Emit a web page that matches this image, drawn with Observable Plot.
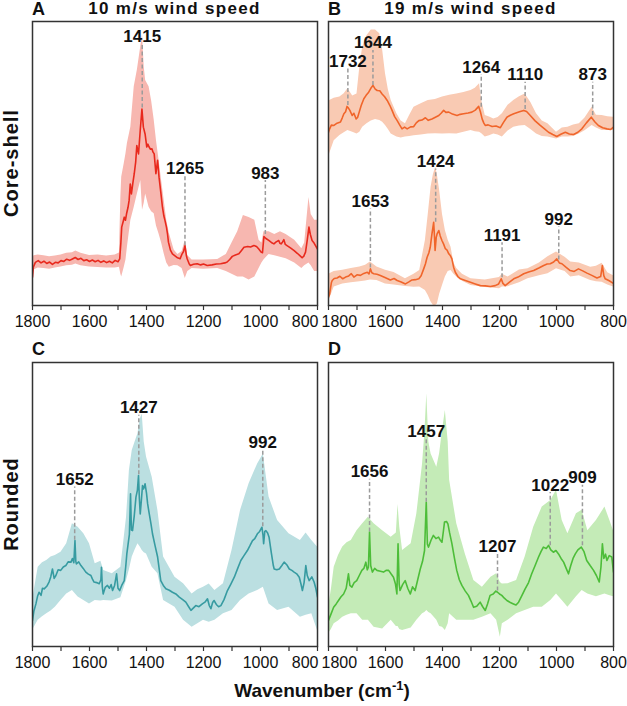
<!DOCTYPE html>
<html><head><meta charset="utf-8">
<script src="https://cdn.jsdelivr.net/npm/d3@7"></script>
<script src="https://cdn.jsdelivr.net/npm/@observablehq/plot@0.6"></script>
<style>
body{margin:0;background:#fff;}
#fig{position:relative;width:627px;height:706px;font-family:"Liberation Sans",Arial,sans-serif;color:#111;overflow:hidden;}
.abs{position:absolute;white-space:nowrap;}
.plot{position:absolute;}
.ttl{font-weight:bold;font-size:17px;line-height:17px;letter-spacing:1.3px;text-align:center;}
.let{font-weight:bold;font-size:18px;line-height:18px;}
.ylab{font-weight:bold;font-size:20px;letter-spacing:1px;transform:translate(-50%,-50%) rotate(-90deg);}
.xlab{font-weight:bold;font-size:19px;transform:translateX(-50%);}
.xlab sup{font-size:13px;}
</style></head><body><div id="fig"></div>
<script>
// ---------- data (intensity in arbitrary units, 0 = bottom of frame, 100 = top) ----------
const xLabelTicks = [1800, 1600, 1400, 1200, 1000, 800];
const xMinorTicks = [1800, 1700, 1600, 1500, 1400, 1300, 1200, 1100, 1000, 900, 800];
const panelTitles = ["10 m/s wind speed", "19 m/s wind speed"];
const panelLetters = ["A", "B", "C", "D"];
const rowLabels = ["Core-shell", "Rounded"];
const xTitle = "Wavenumber (cm";

// Panel A: core-shell, 10 m/s  [wavenumber, mean]
const meanA = [[1800,10],[1797,13.5],[1790,15.2],[1780,15.8],[1770,15.0],[1760,15.6],[1750,14.8],[1740,15.3],[1730,14.5],[1720,15.2],[1710,15.0],[1700,15.8],[1690,15.5],[1680,16.3],[1670,15.9],[1660,16.4],[1650,16.9],[1640,16.2],[1630,16.6],[1620,15.8],[1610,16.1],[1600,15.5],[1590,16.0],[1580,15.4],[1570,15.9],[1560,15.2],[1550,15.7],[1540,15.1],[1530,15.6],[1520,15.0],[1510,15.9],[1500,15.4],[1494,16.4],[1490,22.0],[1487,27.6],[1482,29.5],[1478,31.1],[1474,30.0],[1470,32.3],[1465,34.5],[1461,37.0],[1457,42.8],[1453,39.3],[1448,43.0],[1443,46.4],[1438,50.5],[1434,56.3],[1428,53.4],[1422,61.6],[1416,69.2],[1411,62.8],[1405,60.4],[1399,55.8],[1395,56.8],[1391,55.8],[1386,55.0],[1381,55.2],[1377,54.0],[1373,53.4],[1367,46.4],[1361,51.1],[1356,45.2],[1350,40.0],[1344,34.6],[1339,31.5],[1335,29.9],[1330,27.6],[1326,25.0],[1323,22.3],[1316,19.5],[1309,18.2],[1300,17.5],[1291,16.8],[1282,16.5],[1275,18.2],[1270,19.0],[1265,21.1],[1260,17.5],[1257,16.4],[1250,14.6],[1246,14.1],[1235,14.5],[1222,14.7],[1210,14.3],[1200,14.6],[1187,14.1],[1170,14.3],[1155,14.6],[1140,14.7],[1125,15.0],[1117,15.3],[1108,16.2],[1099,17.3],[1088,17.8],[1076,18.2],[1068,19.2],[1058,20.5],[1045,20.8],[1035,20.6],[1023,21.1],[1014,20.8],[1006,19.9],[998,18.8],[993,18.6],[988,24.3],[981,23.6],[971,22.9],[962,22.2],[953,21.7],[945,22.4],[936,22.9],[932,21.9],[928,21.7],[923,22.3],[918,23.2],[913,21.5],[907,21.1],[895,20.3],[883,19.4],[870,18.3],[860,17.4],[854,16.8],[848,17.4],[842,18.8],[836,23],[830,27.6],[825,25],[819,22.9],[812,22],[807,21.1],[800,19.9]];
// [wavenumber, lower, upper]
const bandA = [[1800,6,16],[1795,12.5,17.5],[1780,13.2,17.8],[1760,13.0,17.5],[1740,12.8,17.2],[1720,13.2,17.4],[1700,13.6,17.8],[1680,14.0,18.4],[1660,14.2,18.6],[1648,14.6,19.2],[1630,14.0,18.4],[1600,13.6,17.6],[1570,13.4,17.8],[1540,13.2,17.4],[1510,13.2,17.8],[1495,13.5,18.5],[1490,11,38],[1487,10.0,45.2],[1478,13.5,50],[1472,16,53.4],[1467,20.5,57],[1455,29.9,62.8],[1443,34.6,77.0],[1432,39.3,82.9],[1420,44.0,91.2],[1414,33.5,95.3],[1408,36,84],[1403,39.3,79.2],[1391,34.6,77.0],[1382,33,72],[1373,32.3,65.3],[1365,28,58],[1356,25.2,51.2],[1347,22,44],[1338,18.2,37.1],[1329,15,30],[1320,13.5,25.4],[1303,14.1,19.5],[1290,14,18],[1275,13,19],[1264,9.5,22.9],[1255,12,17.5],[1240,13,16],[1200,12.8,16],[1150,13,16.2],[1120,12,18],[1100,11,22],[1080,10,26],[1060,10,31.7],[1040,9,31],[1020,10,30],[1005,13,23],[995,15,22],[988,16,26],[970,18,26],[950,17.5,25],[930,17,26],[910,16.5,25],[880,15,23],[855,13,20],[845,14,22],[830,15,38],[822,14,32],[810,12,30],[800,12,30]];
const peaksA = [[1415,92,69.5],[1265,45.5,21],[983,44,25]]; // [wavenumber, dashed-line top, peak]

// Panel B: core-shell, 19 m/s (two spectra)
const meanB1 = [[1800,61],[1796,62.2],[1790,63.5],[1781,63.4],[1770,64.2],[1758,64.6],[1752,66],[1746,67.5],[1740,68.2],[1735,70.1],[1730,69.5],[1725,68.7],[1717,66.9],[1711,67.7],[1703,65.7],[1698,66.2],[1694,67.5],[1685,70.5],[1676,72.8],[1668,74],[1659,75.1],[1652,76.4],[1644,77.5],[1636,76.2],[1629,75.7],[1620,75.6],[1612,74.5],[1603,73.5],[1594,72.2],[1585,70.5],[1577,68.7],[1568,66.5],[1559,65.1],[1550,63.5],[1542,62.2],[1533,62.8],[1524,62.2],[1512,62.9],[1501,63.0],[1492,64.3],[1483,65.1],[1472,65.3],[1460,66.1],[1450,65.2],[1437,65.7],[1425,66.3],[1413,66.9],[1405,67.7],[1396,68.7],[1388,68.0],[1378,68.1],[1365,67.4],[1349,66.9],[1338,67.3],[1326,67.5],[1310,67.8],[1297,68.1],[1285,68.8],[1273,70.1],[1267,68.2],[1261,65.7],[1255,64.2],[1250,63.4],[1240,63.6],[1226,63.0],[1212,63.2],[1197,62.6],[1186,64.5],[1174,66.3],[1162,67.0],[1150,67.5],[1130,68.2],[1115,68.7],[1105,68.3],[1092,66.9],[1075,65.0],[1057,63.4],[1042,62.2],[1028,61.0],[1013,60.2],[999,59.5],[985,60.3],[969,61.0],[955,60.4],[940,60.2],[925,61.0],[911,62.2],[895,64.3],[878,66.3],[865,64.6],[853,63.4],[838,62.6],[823,62.2],[810,62.0],[800,62.8]];
const bandB1 = [[1800,50,70],[1796,53.4,72.2],[1780,58,73],[1760,59.9,73.4],[1745,60.8,74.6],[1732,61.6,76.3],[1715,61,73.8],[1700,60.4,74.5],[1690,61,84],[1680,62.8,91.0],[1665,64,95],[1650,65,97],[1635,65.5,97],[1620,65.1,95.7],[1610,64.5,90],[1600,63.4,81.6],[1590,62,76],[1580,60.4,72.2],[1560,59.3,67.5],[1545,59,65],[1530,59.3,64.0],[1515,59.5,67],[1500,59.8,69.8],[1475,60,71],[1450,60.4,72.2],[1425,60.5,72.5],[1400,60.4,73.4],[1375,60.5,74],[1350,60.4,74.5],[1325,61,75],[1300,61.6,75.7],[1285,61.2,76.5],[1270,61,78.1],[1262,60.5,72],[1250,59.3,66.9],[1235,59.8,66.4],[1220,60.4,65.7],[1205,60,66.2],[1190,59.3,67.5],[1170,61.4,70.5],[1150,62.8,72.2],[1130,63.2,73.5],[1110,63.4,74.5],[1090,62,71.5],[1070,60.4,67.5],[1050,59.5,65],[1030,59.3,64.0],[1015,59.0,62.5],[1000,58.6,61.0],[980,59.3,62.5],[960,59.3,62.8],[940,59.5,63.6],[920,60.4,64.0],[900,61.5,66],[875,63.4,69.8],[860,62.5,67],[840,61.6,66.9],[820,61.6,66.5],[800,61.6,66.3]];
const meanB2 = [[1800,3],[1796,4.1],[1790,8],[1787,8.8],[1780,9.5],[1770,9.7],[1760,10.3],[1750,9.4],[1740,10.0],[1729,10.4],[1720,11.2],[1711,10.0],[1700,10.8],[1688,10.6],[1676,11.3],[1664,11.7],[1658,11.1],[1653,12.9],[1648,11.5],[1641,11.2],[1630,11.0],[1618,10.6],[1600,9.8],[1583,9.0],[1570,9.5],[1559,8.8],[1545,8.3],[1530,7.6],[1518,8.3],[1507,9.0],[1495,9.1],[1483,9.4],[1475,10.5],[1466,12.9],[1460,14.6],[1454,17.0],[1448,18.5],[1443,20.5],[1437,25.2],[1431,29.3],[1428,24],[1426,19.4],[1422,24],[1419,25.2],[1413,26.4],[1408,24.5],[1402,22.9],[1396,21.6],[1390,20.0],[1384,19.5],[1378,18.2],[1372,17.5],[1367,16.4],[1361,13.5],[1355,11.7],[1346,10.2],[1337,9.4],[1320,8.8],[1302,8.2],[1285,7.6],[1267,7.0],[1250,6.9],[1232,6.7],[1215,7.0],[1203,7.6],[1194,9.4],[1188,7.8],[1180,7.0],[1165,8.2],[1150,9.4],[1135,10.0],[1115,11.2],[1098,11.8],[1080,12.3],[1062,13.2],[1045,14.1],[1033,14.6],[1022,14.7],[1010,15.3],[999,16.4],[990,15.0],[981,14.7],[967,13.5],[952,12.3],[938,12.0],[923,12.9],[908,12.2],[893,11.4],[876,10.6],[858,9.7],[845,10.2],[839,14.1],[834,10.5],[829,9.4],[815,8.7],[802,7.9],[800,7.8]];
const bandB2 = [[1800,1,9],[1796,2.3,11.2],[1780,6.5,12],[1750,7.6,12.4],[1720,8,13],[1690,8.4,13.6],[1670,8.6,14.2],[1653,9,15.3],[1630,8.8,13.6],[1600,7.6,12.4],[1570,7.2,11.6],[1530,6.7,9.4],[1500,6.4,11],[1480,6.5,12.3],[1460,5.3,22.9],[1450,3.5,32],[1440,1.2,41.7],[1432,0,46],[1424,0,48.7],[1418,0.5,46],[1410,4,40.5],[1400,7,32],[1390,10,26.4],[1380,12,23],[1370,12.3,20.5],[1360,11,15],[1350,10,13],[1330,8.5,11],[1300,7.0,9.4],[1250,6.3,9],[1200,5.9,9.9],[1190,6.5,11],[1170,6.6,10],[1130,8.0,12.5],[1100,9.4,12.9],[1060,10.5,15],[1030,11.2,17.2],[1000,12.9,18.8],[970,12,17],[950,10.0,15.3],[920,10.5,15],[880,8.8,13.5],[860,8.4,13.8],[840,8.2,14.9],[820,7.2,11.5],[800,6.5,10.5]];
const peaksB = [[1732,83.3,70.4],[1644,89.8,77.5],[1264,81.3,69.8],[1110,78.6,69],[873,78.6,66.9],[1424,48.1,29.3],[1653,34,13.2],[1191,22.1,9.8],[992,27.6,16]];

// Panel C: rounded, 10 m/s
const meanC = [[1800,9.2],[1795,12.5],[1788,15.0],[1782,17.8],[1777,19.1],[1770,18.0],[1765,20.5],[1759,20.3],[1750,21.2],[1742,22.7],[1736,24.5],[1730,27.3],[1724,24.0],[1718,25.0],[1710,27.0],[1701,26.8],[1692,28.0],[1683,28.5],[1675,29.8],[1665,29.7],[1660,31.0],[1655,29.5],[1651,37.3],[1648,30.0],[1646,29.1],[1638,29.8],[1630,28.5],[1622,27.5],[1613,26.2],[1604,25.5],[1595,25.0],[1590,23.8],[1584,22.7],[1575,22.5],[1566,22.1],[1560,23.5],[1558,27.9],[1555,21.0],[1552,18.5],[1545,20.8],[1537,21.5],[1530,20.5],[1524,21.8],[1519,19.7],[1512,21.5],[1505,25.6],[1500,20.5],[1494,19.7],[1487,21.5],[1478,23.2],[1473,28.0],[1469,32.6],[1464,36.5],[1460,39.5],[1456,53.8],[1453,41.0],[1449,40.8],[1443,46.0],[1437,52.6],[1432,55.0],[1428,60.2],[1425,52],[1422,46.7],[1418,51.5],[1414,56.7],[1410,55.5],[1405,57.3],[1400,54.0],[1396,50.2],[1390,46.5],[1384,43.0],[1379,39.7],[1370,35.5],[1361,31.5],[1355,27.0],[1350,23.2],[1341,21.5],[1332,20.3],[1320,19.8],[1309,19.1],[1297,18.5],[1285,17.4],[1273,16.5],[1262,15.6],[1252,14.0],[1244,12.7],[1236,13.5],[1227,14.4],[1216,14.0],[1204,15.0],[1195,15.6],[1186,16.8],[1180,14.5],[1174,13.3],[1168,15.5],[1163,16.2],[1155,14.8],[1147,14.0],[1139,14.4],[1128,16.5],[1116,19.7],[1104,22.0],[1092,24.4],[1080,27.5],[1069,30.3],[1058,32.0],[1046,33.8],[1037,35.5],[1028,37.3],[1020,38.0],[1011,39.7],[1003,40.5],[995,42.0],[991,39.0],[989,36.2],[985,40.5],[981,40.8],[975,40.0],[970,38.5],[962,33.0],[955,28.5],[952,27.3],[943,27.0],[934,27.3],[925,28.5],[917,29.7],[908,28.8],[899,27.3],[890,26.8],[882,26.2],[873,25.6],[864,24.4],[858,22.0],[853,19.7],[847,22.5],[841,28.5],[836,25.0],[829,23.2],[820,24.5],[812,22.7],[806,20.5],[800,17.4]];
const bandC = [[1800,5.6,16.2],[1790,7.5,22],[1780,9.2,27.9],[1765,10.5,29.5],[1750,11.5,30.3],[1735,12.5,31.5],[1720,13.8,32.0],[1700,16.2,33.2],[1680,18.5,36.2],[1660,19.7,43.2],[1640,17.4,42.0],[1620,16.2,39.7],[1600,15.0,36.2],[1580,16.2,29.1],[1560,16.0,30],[1550,16.2,26.8],[1520,16.0,25.6],[1490,17.2,27.9],[1470,23.2,45.5],[1460,27,62],[1450,31.5,69.0],[1440,34,72],[1430,36.2,74.9],[1422,35,80],[1415,33.8,81.9],[1408,33,72],[1400,32.6,66.7],[1380,27.9,59.6],[1360,25.6,47.9],[1340,16.2,31.5],[1300,13.8,24.4],[1270,9.2,22.1],[1240,6.8,18.5],[1220,8,20],[1200,9.2,20.9],[1180,8.5,22],[1160,9.2,19.7],[1130,11.5,22.1],[1100,12.7,33.8],[1070,16.2,47.9],[1040,18.5,57.3],[1010,19.7,64.3],[990,20.9,67.8],[970,15.0,52.6],[940,12.7,44.4],[900,13.8,39.7],[860,10.3,37.3],[840,11,40],[820,11.5,37.3],[800,5.6,35.0]];
const peaksC = [[1652,56.2,37.4],[1427,81.4,60.5],[992,69.1,42.2]];

// Panel D: rounded, 19 m/s
const meanD = [[1800,9.2],[1791,11.5],[1782,13.8],[1773,15.0],[1765,16.2],[1756,17.5],[1747,18.5],[1738,20.5],[1730,25.6],[1725,21.5],[1718,20.9],[1710,22.5],[1701,23.2],[1692,25.0],[1683,26.8],[1676,27.5],[1669,29.7],[1664,27.0],[1660,27.9],[1656,40.3],[1652,28.5],[1646,26.2],[1638,27.5],[1630,26.8],[1618,26.5],[1607,26.2],[1598,26.8],[1589,26.8],[1580,25.5],[1572,24.4],[1565,22.0],[1560,18.5],[1556,36.2],[1552,22],[1549,19.7],[1540,21.8],[1531,23.2],[1522,20.5],[1513,18.5],[1505,21.0],[1496,19.7],[1487,23.5],[1478,27.3],[1470,30.0],[1463,33.8],[1457,50.8],[1453,36],[1449,35.0],[1440,37.5],[1432,39.1],[1423,38.0],[1414,38.5],[1408,37.5],[1402,36.7],[1397,40.5],[1393,43.8],[1386,44.0],[1381,43.2],[1375,40.0],[1367,36.2],[1358,31.0],[1350,26.8],[1341,23.5],[1332,21.5],[1320,19.5],[1309,18.0],[1300,16.0],[1291,13.8],[1280,14.2],[1268,15.6],[1259,14.0],[1250,12.7],[1242,15.0],[1233,18.0],[1222,18.5],[1213,19.5],[1207,19.1],[1200,18.5],[1192,18.0],[1183,17.0],[1174,16.2],[1162,15.5],[1151,15.0],[1142,14.6],[1133,15.6],[1122,17.8],[1110,20.3],[1098,22.5],[1087,25.6],[1075,28.5],[1063,31.5],[1054,33.5],[1046,35.0],[1036,34.5],[1028,35.6],[1020,34.0],[1011,33.2],[1002,33.8],[993,32.6],[984,31.0],[975,29.7],[966,27.5],[958,25.6],[950,28.5],[942,31.0],[934,32.6],[925,34.0],[913,35.0],[904,33.5],[894,30.3],[882,28.5],[870,26.8],[860,25.0],[850,22.7],[844,28],[839,36.2],[834,31],[828,32.5],[823,30.3],[815,32.0],[806,31.5],[800,26.2]];
const bandD = [[1800,4.5,13.8],[1790,6,20],[1780,8.0,27.9],[1765,9,32],[1750,10.3,35.0],[1735,11,36.5],[1720,11.5,37.3],[1700,11.5,40.8],[1680,9.2,43.2],[1660,9.2,45.5],[1640,6.8,43.2],[1610,6.2,40.8],[1580,9.2,38.5],[1562,7,40],[1556,7,50],[1550,6,42],[1540,5.6,33.8],[1510,6.5,36.2],[1490,9.2,46.7],[1470,11.5,64.3],[1462,12,75],[1455,12.7,89.0],[1448,12,72],[1440,11.5,67.8],[1420,9.2,63.1],[1410,7,68],[1400,6.8,76.1],[1390,5.6,83.1],[1380,8,72],[1375,11.5,58.5],[1350,9.2,43.2],[1320,9.2,32.6],[1290,9.2,23.2],[1260,10.3,20.9],[1230,11.5,24.4],[1210,9.2,25.6],[1197,3.3,22.5],[1190,8,22],[1170,9.2,22.1],[1140,11.5,23.2],[1110,12.7,31.5],[1080,13.8,42.0],[1050,13.8,49.1],[1020,16.2,51.4],[1000,18.5,55.0],[980,16.2,44.4],[960,13.8,39.7],[930,17.5,46.7],[910,19.7,48.0],[890,18.5,40.8],[860,17.5,44.4],[830,18.5,49.1],[815,18,45],[800,17.5,40.8]];
const peaksD = [[1656,58.9,40.3],[1457,73.2,50.8],[1207,32.4,19.5],[1022,54.2,35.5],[909,56.8,35.5]];

// ---------- drawing ----------
const fig = document.getElementById("fig");
const font = "'Liberation Sans', Arial, sans-serif";
const fmt = d => String(d);

function panel({means, bands, line, fill, peaks, left, top, right}) {
  const mr = right ? 12 : 15;
  const marks = [];
  for (const b of bands) marks.push(Plot.areaY(b, {x: d => d[0], y1: d => d[1], y2: d => d[2], fill, clip: true}));
  for (const m of means) marks.push(Plot.line(m, {x: d => d[0], y: d => d[1], stroke: line, strokeWidth: 1.6, clip: true}));
  marks.push(Plot.ruleX(peaks, {x: d => d[0], y1: d => d[2], y2: d => d[1], stroke: "#9b9b9b", strokeWidth: 1.5, strokeDasharray: "4,2.5"}));
  marks.push(Plot.text(peaks, {x: d => d[0], y: d => d[1], text: d => String(d[0]), lineAnchor: "bottom", dy: -2, fontSize: 17, fontWeight: "bold", fill: "#111"}));
  marks.push(Plot.frame({stroke: "#333", strokeWidth: 1.5}));
  marks.push(Plot.axisX({ticks: xMinorTicks, tickSize: 5, text: null, stroke: "#333", strokeWidth: 1.2}));
  const lab = {tickSize: 0, tickPadding: 10, fontSize: 16, fill: "#111", tickFormat: fmt};
  if (!right) {
    marks.push(Plot.axisX({...lab, ticks: xLabelTicks.filter(t => t !== 800)}));
    marks.push(Plot.axisX({...lab, ticks: [800], textAnchor: "end", dx: 1}));
  } else {
    marks.push(Plot.axisX({...lab, ticks: xLabelTicks.filter(t => t !== 1800)}));
    marks.push(Plot.axisX({...lab, ticks: [1800], textAnchor: "start", dx: -7}));
  }
  const svg = Plot.plot({
    width: 15 + 285 + mr, height: 6 + 284 + 30,
    marginLeft: 15, marginRight: mr, marginTop: 6, marginBottom: 30,
    style: {fontFamily: font, background: "transparent", overflow: "visible"},
    x: {domain: [1800, 800], axis: null},
    y: {domain: [0, 100], axis: null},
    marks
  });
  svg.classList.add("plot");
  svg.style.left = (left - 15) + "px";
  svg.style.top = (top - 6) + "px";
  fig.appendChild(svg);
}

panel({means: [meanA], bands: [bandA], line: "#e8291d", fill: "#f7b7b0", peaks: peaksA, left: 32, top: 21});
panel({means: [meanB1, meanB2], bands: [bandB1, bandB2], line: "#f0652b", fill: "#f9cab3", peaks: peaksB, left: 328, top: 21, right: true});
panel({means: [meanC], bands: [bandC], line: "#379ba1", fill: "#bbdfe1", peaks: peaksC, left: 32, top: 362});
panel({means: [meanD], bands: [bandD], line: "#4dbd39", fill: "#c4ebb7", peaks: peaksD, left: 328, top: 362, right: true});

function addDiv(cls, html, css) {
  const d = document.createElement("div");
  d.className = "abs " + cls;
  d.innerHTML = html;
  Object.assign(d.style, css);
  fig.appendChild(d);
}
addDiv("let", panelLetters[0], {left: "32px", top: "0px"});
addDiv("let", panelLetters[1], {left: "328px", top: "0px"});
addDiv("let", panelLetters[2], {left: "32px", top: "340px"});
addDiv("let", panelLetters[3], {left: "328px", top: "340px"});
addDiv("ttl", panelTitles[0], {left: "32px", width: "285px", top: "0px"});
addDiv("ttl", panelTitles[1], {left: "328px", width: "285px", top: "0px"});
addDiv("ylab", rowLabels[0], {left: "11px", top: "163px"});
addDiv("ylab", rowLabels[1], {left: "11px", top: "504px"});
addDiv("xlab", xTitle + "<sup>-1</sup>)", {left: "322px", top: "678px"});
</script></body></html>
